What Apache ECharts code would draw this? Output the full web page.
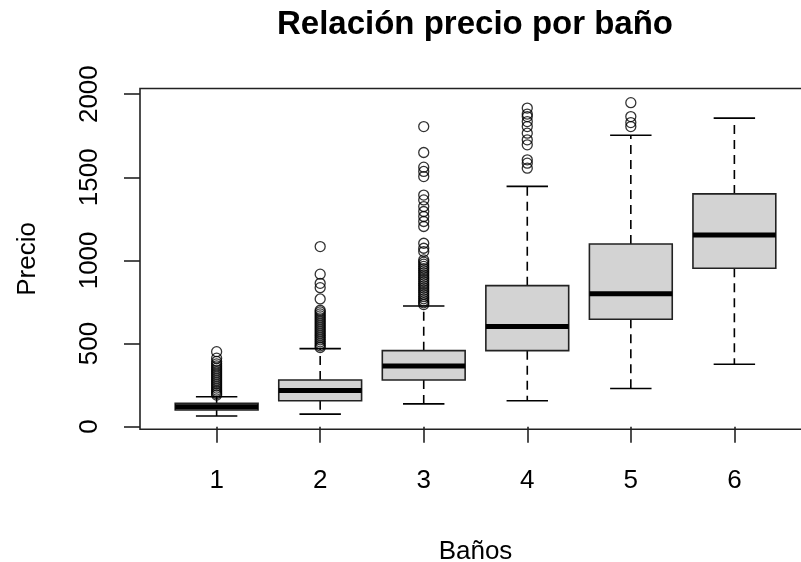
<!DOCTYPE html>
<html>
<head>
<meta charset="utf-8">
<script src="https://cdn.jsdelivr.net/npm/echarts@6/dist/echarts.min.js"></script>
<style>html,body{margin:0;padding:0;background:#fff;}#c{width:801px;height:562px;}</style>
</head>
<body>
<div id="c"></div>
<script>
// ---- data ----
const categories = [1, 2, 3, 4, 5, 6];
const lowWhisker  = [64, 75, 137, 156, 229, 375];
const q1          = [100, 156, 281, 457, 646, 953];
const median      = [120, 217, 365, 602, 800, 1153];
const q3          = [140, 281, 457, 848, 1099, 1400];
const highWhisker = [180, 469, 726, 1445, 1753, 1856];

const outliers1 = [451, 412, 392, 378, 365, 352, 340, 328, 316, 304, 292, 280, 268, 256, 244, 232, 220, 210, 200, 190];
const outliers2 = [1083, 917, 862, 836, 768, 700, 690, 678, 666, 654, 642, 630, 618, 606, 594, 582, 570, 558, 546, 534, 522, 510, 498, 486, 476];
const outliers3 = [1805, 1649, 1561, 1535, 1504, 1393, 1364, 1324, 1294, 1264, 1234, 1204, 1103, 1073, 1053, 1003, 990, 977, 964, 951, 938, 925, 912, 899, 886, 873, 860, 847, 834, 821, 808, 795, 782, 769, 756, 745, 734];
const outliers4 = [1916, 1880, 1865, 1835, 1805, 1765, 1725, 1695, 1605, 1585, 1555];
const outliers5 = [1949, 1865, 1829, 1805];
const outliers6 = [];

const yTicks = [0, 500, 1000, 1500, 2000];
const xTicks = [1, 2, 3, 4, 5, 6];
const title = 'Relación precio por baño';
const xName = 'Baños';
const yName = 'Precio';

// ---- build series data ----
const boxData = categories.map((c, i) => [c, lowWhisker[i], q1[i], median[i], q3[i], highWhisker[i]]);
const allOutliers = [outliers1, outliers2, outliers3, outliers4, outliers5, outliers6];
const outlierData = [];
allOutliers.forEach((arr, i) => arr.forEach(v => outlierData.push([categories[i], v])));

const FONT = "'Liberation Sans', Arial, sans-serif";
const BOX_W = 0.8;  // R default box width in axis units
const LW = 1.6;

const chart = echarts.init(document.getElementById('c'), null, {renderer: 'canvas'});
chart.setOption({
  animation: false,
  backgroundColor: '#fff',
  title: {
    text: title,
    left: 470, textAlign: 'center',
    top: 3,
    textStyle: {fontFamily: FONT, fontSize: 33, fontWeight: 'bold', color: '#000'}
  },
  grid: {
    left: 140, right: -10, top: 88.5, bottom: 132.7,
    outerBoundsMode: 'none', containLabel: false,
    show: true, borderColor: '#222', borderWidth: 1.6, backgroundColor: 'transparent'
  },
  xAxis: {
    type: 'value', min: 0.26, max: 6.74,
    name: xName, nameLocation: 'middle', nameGap: 110,
    nameTextStyle: {fontFamily: FONT, fontSize: 26, color: '#000'},
    axisLine: {show: false},
    splitLine: {show: false},
    axisTick: {show: true, customValues: xTicks, length: 16, lineStyle: {color: '#222', width: LW}},
    axisLabel: {customValues: xTicks, margin: 39, fontFamily: FONT, fontSize: 26, color: '#000',
                formatter: v => String(v)}
  },
  yAxis: {
    type: 'value', min: -16, max: 2034,
    name: yName, nameLocation: 'middle', nameGap: 99, nameRotate: 90,
    nameTextStyle: {fontFamily: FONT, fontSize: 26, color: '#000'},
    axisLine: {show: false},
    splitLine: {show: false},
    axisTick: {show: true, customValues: yTicks, length: 16, lineStyle: {color: '#222', width: LW}},
    axisLabel: {customValues: yTicks, rotate: 90, margin: 37, fontFamily: FONT, fontSize: 26, color: '#000',
                formatter: v => String(v)}
  },
  series: [
    {
      type: 'custom',
      data: boxData,
      encode: {x: 0, y: [1, 2, 3, 4, 5]},
      z: 2,
      renderItem: function (params, api) {
        const x = api.value(0);
        const lo = api.coord([x, api.value(1)]);
        const b1 = api.coord([x, api.value(2)]);
        const md = api.coord([x, api.value(3)]);
        const b3 = api.coord([x, api.value(4)]);
        const hi = api.coord([x, api.value(5)]);
        const bw = api.size([BOX_W, 0])[0];
        const sw = bw / 2;
        const cx = lo[0];
        const dash = {stroke: '#000', lineWidth: LW, lineDash: [9, 6]};
        const solid = {stroke: '#000', lineWidth: LW};
        return {
          type: 'group',
          children: [
            {type: 'line', shape: {x1: cx, y1: b3[1], x2: cx, y2: hi[1]}, style: dash},
            {type: 'line', shape: {x1: cx, y1: b1[1], x2: cx, y2: lo[1]}, style: dash},
            {type: 'line', shape: {x1: cx - sw / 2, y1: hi[1], x2: cx + sw / 2, y2: hi[1]}, style: solid},
            {type: 'line', shape: {x1: cx - sw / 2, y1: lo[1], x2: cx + sw / 2, y2: lo[1]}, style: solid},
            {type: 'rect', shape: {x: cx - bw / 2, y: b3[1], width: bw, height: b1[1] - b3[1]},
             style: {fill: '#d3d3d3', stroke: '#222', lineWidth: LW}},
            {type: 'line', shape: {x1: cx - bw / 2, y1: md[1], x2: cx + bw / 2, y2: md[1]},
             style: {stroke: '#000', lineWidth: 5}}
          ]
        };
      }
    },
    {
      type: 'scatter',
      data: outlierData,
      z: 3,
      symbol: 'circle',
      symbolSize: 10,
      itemStyle: {color: 'rgba(0,0,0,0)', borderColor: '#000', borderWidth: 1.3}
    }
  ]
});
</script>
</body>
</html>
